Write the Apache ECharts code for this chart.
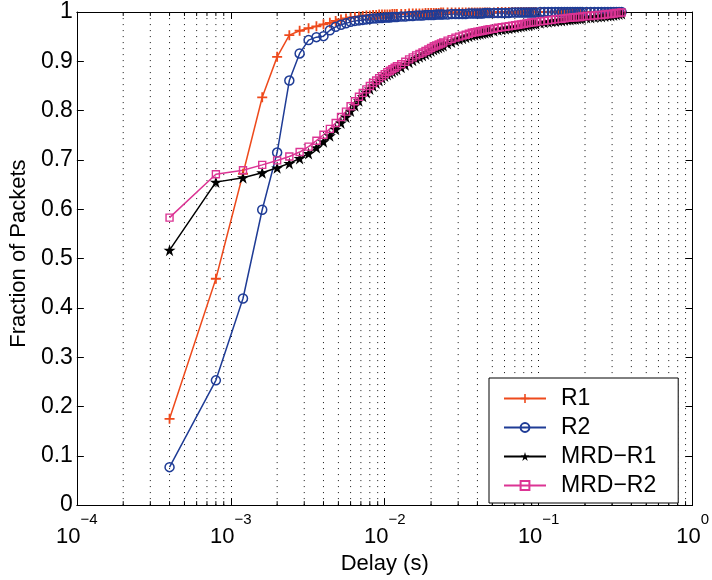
<!DOCTYPE html>
<html>
<head>
<meta charset="utf-8">
<script src="https://cdn.jsdelivr.net/npm/echarts@6/dist/echarts.min.js"></script>
<style>
html,body{margin:0;padding:0;background:#fff;}
#chart{width:712px;height:580px;}
</style>
</head>
<body>
<div id="chart"></div>
<script>
// Delay values in milliseconds (x positions of the recorded points)
const delaysMs = [
  0.4,0.8,1.2,1.6,2.0,2.4,2.8,3.2,3.6,4.0,
  4.4,4.8,5.2,5.6,6.0,6.4,6.8,7.2,7.6,8.0,
  8.4,8.8,9.2,9.6,10.0,
  10.4,10.8,11.2,11.6,12.0,
  12.8,13.6,14.4,15.2,16.0,16.8,17.6,18.4,19.2,20.0,20.8,21.6,22.4,23.2,24.0,
  25.6,27.2,28.8,30.4,32.0,33.6,35.2,36.8,38.4,40.0,41.6,43.2,44.8,46.4,48.0,
  51.2,54.4,57.6,60.8,64.0,67.2,70.4,73.6,76.8,80.0,83.2,86.4,89.6,92.8,96.0,
  102.4,108.8,115.2,121.6,128.0,134.4,140.8,147.2,153.6,160.0,166.4,172.8,179.2,185.6,192.0,
  204.8,217.6,230.4,243.2,256.0,268.8,281.6,294.4,307.2,320.0,332.8,345.6
];
const r1 = [
  0.175,0.459,0.672,0.827,0.909,0.953,0.962,0.967,0.971,0.975,
  0.978,0.982,0.985,0.987,0.989,0.990,0.991,0.992,0.993,0.993,
  0.994,0.994,0.995,0.995,0.995,
  0.995,0.995,0.996,0.996,0.996,
  0.996,0.996,0.997,0.997,0.997,0.997,0.997,0.998,0.998,0.998,0.998,0.998,0.998,0.999,0.999,
  0.999,0.999,0.999,0.999,0.999,0.999,0.999,0.999,0.999,0.999,0.999,0.999,0.999,0.999,0.999,
  0.999,1,1,1,1,1,1,1,1,1,1,1,1,1,1,
  1,1,1,1,1,1,1,1,1,1,1,1,1,1,1,
  1,1,1,1,1,1,1,1,1,1,1,1
];
const r2 = [
  0.077,0.253,0.419,0.599,0.715,0.861,0.916,0.943,0.949,0.951,
  0.963,0.970,0.974,0.977,0.980,0.982,0.983,0.984,0.985,0.986,
  0.987,0.987,0.988,0.988,0.989,
  0.989,0.989,0.990,0.990,0.990,
  0.991,0.991,0.992,0.992,0.993,0.993,0.993,0.994,0.994,0.994,0.994,0.995,0.995,0.995,0.995,
  0.995,0.996,0.996,0.996,0.996,0.996,0.997,0.997,0.997,0.997,0.997,0.997,0.998,0.998,0.998,
  0.998,0.998,0.998,0.998,0.998,0.999,0.999,0.999,0.999,0.999,0.999,0.999,0.999,0.999,0.999,
  1,1,1,1,1,1,1,1,1,1,1,1,1,1,1,
  1,1,1,1,1,1,1,1,1,1,1,1
];
const mrdR1 = [
  0.517,0.655,0.664,0.674,0.684,0.693,0.703,0.713,0.725,0.737,
  0.749,0.762,0.775,0.787,0.799,0.810,0.820,0.829,0.837,0.844,
  0.850,0.856,0.861,0.866,0.870,
  0.873,0.876,0.879,0.882,0.884,
  0.888,0.893,0.898,0.902,0.906,0.909,0.912,0.915,0.918,0.921,0.924,0.926,0.928,0.930,0.932,
  0.936,0.939,0.942,0.945,0.947,0.949,0.951,0.953,0.954,0.955,0.956,0.957,0.958,0.959,0.960,
  0.962,0.964,0.965,0.966,0.967,0.968,0.969,0.970,0.971,0.972,0.973,0.974,0.975,0.976,0.976,
  0.978,0.979,0.980,0.981,0.982,0.983,0.983,0.984,0.985,0.985,0.986,0.986,0.987,0.987,0.988,
  0.989,0.989,0.990,0.991,0.991,0.992,0.993,0.993,0.994,0.995,0.996,0.997
];
const mrdR2 = [
  0.583,0.671,0.679,0.690,0.699,0.707,0.716,0.727,0.739,0.751,
  0.763,0.775,0.787,0.798,0.809,0.819,0.828,0.836,0.843,0.850,
  0.856,0.861,0.866,0.870,0.874,
  0.878,0.881,0.884,0.887,0.890,
  0.894,0.899,0.904,0.908,0.912,0.915,0.918,0.921,0.924,0.927,0.930,0.932,0.934,0.936,0.938,
  0.942,0.945,0.948,0.950,0.952,0.954,0.956,0.958,0.959,0.960,0.961,0.962,0.963,0.964,0.965,
  0.966,0.968,0.969,0.970,0.971,0.972,0.973,0.974,0.975,0.976,0.977,0.978,0.979,0.979,0.980,
  0.981,0.982,0.983,0.984,0.985,0.986,0.986,0.987,0.988,0.988,0.989,0.989,0.990,0.990,0.991,
  0.992,0.992,0.993,0.994,0.994,0.995,0.996,0.996,0.997,0.998,0.998,0.999
];
// Log-axis minor tick / grid positions (seconds)
const xMinorTicks = [
  0.0002,0.0003,0.0004,0.0005,0.0006,0.0007,0.0008,0.0009,
  0.002,0.003,0.004,0.005,0.006,0.007,0.008,0.009,
  0.02,0.03,0.04,0.05,0.06,0.07,0.08,0.09,
  0.2,0.3,0.4,0.5,0.6,0.7,0.8,0.9
];
const seriesNames = ['R1','R2','MRD-R1','MRD-R2'];

const FONT = 'Liberation Sans, Arial, Helvetica, sans-serif';
const pairs = vals => vals.map((v, i) => [delaysMs[i] / 1000, v]);

const plusPath = 'path://M4.1,0h1.8v4.1h4.1v1.8h-4.1v4.1h-1.8v-4.1h-4.1v-1.8h4.1z';
const starPath = 'path://M50,0L61.17,34.63L97.55,34.55L68.07,55.87L79.39,90.45L50,69L20.61,90.45L31.93,55.87L2.45,34.55L38.83,34.63Z';

const cRed = '#ee4a1c', cBlue = '#1f3c96', cBlack = '#000000', cPink = '#dc3494';
const dotted = {color: '#111', width: 1, type: [1, 5]};

// vertical segment helpers (broken with empty points between segments)
function segments(values, y0, y1) {
  const out = [];
  values.forEach(v => { out.push([v, y0], [v, y1], [v, '-']); });
  return out;
}

function lineSeries(name, vals, color, symbol, size, itemStyle) {
  return {
    name, type: 'line', data: pairs(vals), symbol, symbolSize: size,
    showAllSymbol: true, z: 3,
    lineStyle: {color, width: 1.5},
    itemStyle,
    emphasis: {disabled: true}
  };
}

function helperSeries(name, data, lineStyle) {
  return {
    name, type: 'line', data, symbol: 'none', z: 1, silent: true,
    connectNulls: false, lineStyle, emphasis: {disabled: true}
  };
}

const chart = echarts.init(document.getElementById('chart'), null, {renderer: 'canvas'});
chart.setOption({
  animation: false,
  backgroundColor: '#fff',
  grid: {left: 73, top: 12, right: 14, bottom: 68, containLabel: false},
  legend: {
    data: seriesNames,
    orient: 'vertical',
    left: 489, top: 378,
    backgroundColor: '#fff',
    borderColor: '#000', borderWidth: 1, borderRadius: 0,
    padding: [9, 22, 6, 14],
    itemGap: 6, itemWidth: 42, itemHeight: 11,
    formatter: n => n.replace('-', '\u2212'),
    textStyle: {fontSize: 23, color: '#000', fontFamily: FONT, padding: [0, 0, 0, 10]}
  },
  xAxis: [{
    type: 'log', logBase: 10, min: 0.0001, max: 1, position: 'bottom',
    axisLine: {show: true, onZero: false, lineStyle: {color: '#000', width: 1}},
    axisTick: {show: true, inside: true, length: 7, lineStyle: {color: '#000'}},
    axisLabel: {
      showMinLabel: true, showMaxLabel: true, margin: 7,
      formatter: v => {
        const e = Math.round(Math.log10(v));
        return '{b|10}{e|' + (e < 0 ? '\u2212' + (-e) : e) + '}';
      },
      rich: {
        b: {fontSize: 22, lineHeight: 36, color: '#000', fontFamily: FONT, verticalAlign: 'bottom'},
        e: {fontSize: 15, lineHeight: 15, color: '#000', fontFamily: FONT, verticalAlign: 'top'}
      }
    },
    splitLine: {show: true, lineStyle: dotted},
    name: 'Delay (s)', nameLocation: 'middle', nameGap: 43,
    nameTextStyle: {fontSize: 22, color: '#000', fontFamily: FONT}
  }, {
    type: 'log', logBase: 10, min: 0.0001, max: 1, position: 'top',
    axisLine: {show: true, onZero: false, lineStyle: {color: '#000', width: 1}},
    axisTick: {show: true, inside: true, length: 7, lineStyle: {color: '#000'}},
    axisLabel: {show: false},
    splitLine: {show: false}
  }],
  yAxis: [{
    type: 'value', min: 0, max: 1, interval: 0.1, position: 'left',
    axisLine: {show: true, onZero: false, lineStyle: {color: '#000', width: 1}},
    axisTick: {show: true, inside: true, length: 7, lineStyle: {color: '#000'}},
    axisLabel: {fontSize: 23, color: '#000', fontFamily: FONT, margin: 4},
    splitLine: {show: false},
    name: 'Fraction of Packets', nameLocation: 'middle', nameGap: 43, nameRotate: 90,
    nameTextStyle: {fontSize: 22, color: '#000', fontFamily: FONT, padding: [0, 0, 0, 10]}
  }, {
    type: 'value', min: 0, max: 1, interval: 0.1, position: 'right',
    axisLine: {show: true, onZero: false, lineStyle: {color: '#000', width: 1}},
    axisTick: {show: true, inside: true, length: 7, lineStyle: {color: '#000'}},
    axisLabel: {show: false},
    splitLine: {show: false}
  }],
  series: [
    helperSeries('_minorGrid', segments(xMinorTicks, 0, 1), dotted),
    helperSeries('_minorTickBottom', segments(xMinorTicks, 0, 0.008), {color: '#000', width: 1}),
    helperSeries('_minorTickTop', segments(xMinorTicks, 1, 0.992), {color: '#000', width: 1}),
    lineSeries('R1', r1, cRed, plusPath, 10, {color: cRed}),
    lineSeries('R2', r2, cBlue, 'circle', 9, {color: 'rgba(0,0,0,0)', borderColor: cBlue, borderWidth: 1.5}),
    lineSeries('MRD-R1', mrdR1, cBlack, starPath, 12, {color: cBlack}),
    lineSeries('MRD-R2', mrdR2, cPink, 'rect', 7, {color: 'rgba(0,0,0,0)', borderColor: cPink, borderWidth: 1.4})
  ]
});
</script>
</body>
</html>
